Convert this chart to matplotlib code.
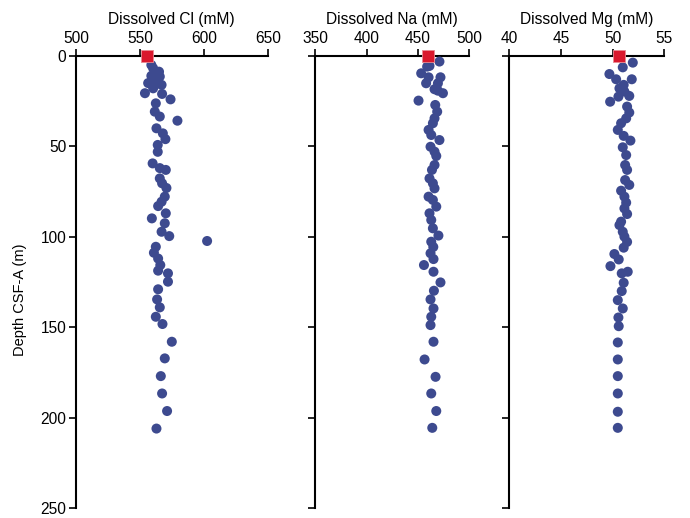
import matplotlib
matplotlib.use("Agg")
import matplotlib.pyplot as plt

plt.rcParams['font.family'] = ['Liberation Sans', 'DejaVu Sans']

# Dissolved Cl (mM) vs depth (m)
cl_depth = [5, 6.8, 8.7, 11, 11.4, 13.3, 15, 15, 16, 17.9, 20.6, 21, 24, 26.2, 30.8,
            33.5, 35.8, 40, 42.8, 46, 49.2, 53, 59.4, 62, 63, 67.7, 70.4, 73, 77.8,
            80.6, 83, 87, 89.8, 92.5, 97.2, 99.6, 102.3, 105.5, 108.8, 112, 115.6,
            118.7, 120.2, 124.8, 129, 134.6, 139, 144.2, 148.2, 158, 167.2, 177,
            186.6, 196.3, 206]
cl = [559, 560.4, 565, 559, 565.6, 561.7, 556.5, 563, 567, 560.4, 554, 567.4, 574,
      562.5, 561.7, 565.6, 579.4, 563, 568, 570, 564, 564, 560, 565.6, 570.3, 565.6,
      567.4, 570.8, 569.5, 567, 564.3, 570.3, 559.4, 569.5, 567, 573, 602.6, 562.5,
      561, 564.3, 566, 564.3, 572, 572, 564.3, 563.5, 565.6, 562.5, 567.7, 575,
      569.5, 566.4, 567.4, 571.3, 563]

# Dissolved Na (mM) vs depth (m)
na_depth = [3.1, 5.5, 5.9, 9.6, 11.8, 11.8, 15.1, 15.1, 18.4, 19.2, 20.6, 24.7, 27.1,
            30.8, 34.5, 37.2, 40.9, 43.7, 46.5, 50.2, 52.9, 55.3, 60.3, 63, 67.7,
            70.4, 73.2, 77.8, 79.6, 83.3, 87, 90.7, 95.3, 99.3, 102.7, 105.6, 109.1,
            112.3, 115.6, 119.3, 125.2, 129.8, 134.6, 139.6, 144.2, 148.8, 158,
            167.8, 177.4, 186.6, 196.3, 205.6]
na = [471, 461.3, 459, 453.2, 460.4, 472, 458, 469.5, 466.2, 469.5, 474.4, 450.6,
      466.9, 468.8, 466.2, 464.6, 460.4, 463, 471, 462.3, 466.2, 467.9, 466.2, 463.7,
      461.3, 464.6, 466.2, 460.4, 464.6, 467.9, 461.3, 463, 464.6, 470, 463, 465,
      462.3, 465.2, 455.9, 465.2, 472, 465.6, 462.3, 465.2, 463, 462.3, 465.2, 456.5,
      467.2, 463, 467.9, 464]

# Dissolved Mg (mM) vs depth (m)
mg_depth = [3.7, 6.3, 10, 12.9, 12.9, 16, 17.9, 19.7, 22.5, 22.1, 25.3, 28, 31.3,
            34.5, 37.2, 40.9, 44.2, 46.8, 50.5, 54.8, 60.3, 63, 68.6, 71.3, 74.5,
            77.8, 81.1, 84.3, 87.4, 91.6, 93.5, 97.2, 99.9, 102.8, 106, 109.5, 112.5,
            116.2, 120.2, 119.3, 125.4, 130, 135, 139.6, 144.6, 149.4, 158.4, 167.8,
            177, 186.6, 196.7, 205.6]
mg = [51.94, 50.97, 49.68, 50.33, 51.84, 51.06, 50.65, 51.13, 50.55, 51.6, 49.75,
      51.39, 51.6, 51.3, 50.81, 50.49, 51.06, 51.71, 50.97, 51.3, 51.2, 51.39, 51.2,
      51.6, 50.81, 51.13, 51.3, 51.13, 51.39, 50.81, 50.65, 50.97, 51.13, 51.39,
      51.06, 50.16, 50.58, 49.78, 50.87, 51.45, 51.06, 50.87, 50.49, 50.97, 50.55,
      50.58, 50.49, 50.49, 50.49, 50.49, 50.49, 50.49]

# seawater reference values (red squares)
sw_depth = [0, 0, 0]
sw_values = [555.7, 459.8, 50.65]

labels = ["Dissolved Cl (mM)", "Dissolved Na (mM)", "Dissolved Mg (mM)"]
xlims = [(500, 650), (350, 500), (40, 55)]
xticks = [[500, 550, 600, 650], [350, 400, 450, 500], [40, 45, 50, 55]]
yticks = [0, 50, 100, 150, 200, 250]

fig = plt.figure(figsize=(6.9, 5.18), dpi=100)
positions = [[0.110, 0.019, 0.278, 0.873],
             [0.457, 0.019, 0.223, 0.873],
             [0.738, 0.019, 0.225, 0.873]]

blue = '#3d4a8f'
red = '#d9182d'

for i, (depth, vals) in enumerate([(cl_depth, cl), (na_depth, na), (mg_depth, mg)]):
    ax = fig.add_axes(positions[i])
    ax.scatter(vals, depth, s=52, color=blue, edgecolors='none', zorder=3, clip_on=False)
    ax.scatter([sw_values[i]], [sw_depth[i]], s=70, marker='s', color=red,
               edgecolors='#e88a93', linewidths=0.6, zorder=4, clip_on=False)
    ax.set_xlim(*xlims[i])
    ax.set_ylim(250, 0)
    ax.set_xticks(xticks[i])
    ax.set_yticks(yticks)
    ax.xaxis.tick_top()
    ax.xaxis.set_label_position('top')
    ax.set_xlabel(labels[i], fontsize=11.2, labelpad=5)
    ax.spines['right'].set_visible(False)
    ax.spines['bottom'].set_visible(False)
    ax.spines['top'].set_linewidth(1.5)
    ax.spines['left'].set_linewidth(1.5)
    ax.tick_params(axis='both', direction='out', length=5, width=1.2, labelsize=11.2,
                   pad=2)
    if i == 0:
        ax.set_ylabel("Depth CSF-A (m)", fontsize=10.5)
        ax.yaxis.set_label_coords(-0.255, 0.46)
    else:
        ax.set_yticklabels([])

fig.savefig("out.png", dpi=100)
